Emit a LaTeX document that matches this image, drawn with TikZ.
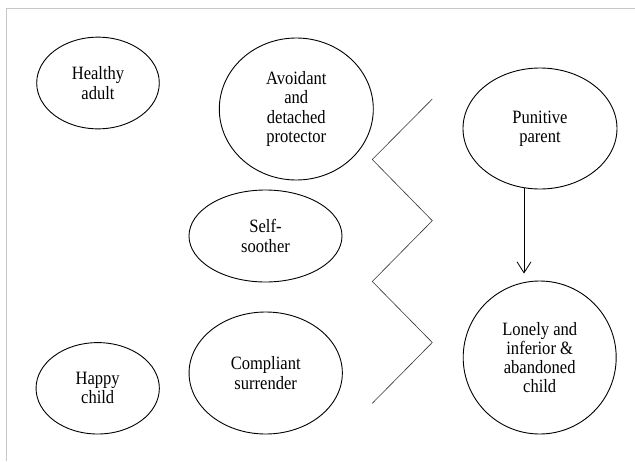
\documentclass[tikz,border=0pt]{standalone}
\usepackage{fontspec}
\newfontfamily\modefont{Liberation Serif}[FakeStretch=0.88]
\usetikzlibrary{shapes.geometric,arrows.meta}

\tikzset{
  mode/.style={ellipse, draw, line width=0.9pt, inner sep=0pt, align=center,
    font=\modefont\fontsize{18.8}{19.2}\selectfont},
  zigzag/.style={black!80, line width=0.6pt},
  frame/.style={black!22, line width=0.8pt}
}

\begin{document}
\begin{tikzpicture}[x=1pt,y=-1pt]
    \useasboundingbox (0,0) rectangle (635,461);
    % draw frame
    \draw[frame] (6,461) -- (6,8.5) -- (635,8.5);

    % draw modes
    \node[mode, minimum width=122.6pt, minimum height=91.7pt] (ha) at (98,83) {Healthy\\adult};
    \node[mode, minimum width=154pt, minimum height=142pt] (ad) at (296.3,109) {Avoidant\\and\\detached\\protector};
    \node[mode, minimum width=153pt, minimum height=92pt] (ss) at (265.5,236) {Self-\\soother};
    \node[mode, minimum width=153.3pt, minimum height=122pt] (cs) at (265.7,373) {Compliant\\surrender};
    \node[mode, minimum width=123.3pt, minimum height=91.4pt] (hc) at (97.7,388.3) {Happy\\child};
    \node[mode, minimum width=154pt, minimum height=121pt] (pp) at (540,128.5) {Punitive\\parent};
    \node[mode, minimum width=153pt, minimum height=153pt] (lc) at (539.7,357.5) {Lonely and\\inferior \&\\abandoned\\child};

    % draw zigzag
    \draw[zigzag] (432.3,99) -- (372.3,159.5) -- (432.3,220.7) -- (372.3,281.5)
      -- (432.3,342.5) -- (372.3,403.3);

    % draw arrow
    \draw[line width=0.8pt, -{Straight Barb[length=11pt,width=14pt,line width=0.8pt]}]
      (pp.255) -- ([yshift=7pt]pp.255 |- lc.north);
\end{tikzpicture}
\end{document}
